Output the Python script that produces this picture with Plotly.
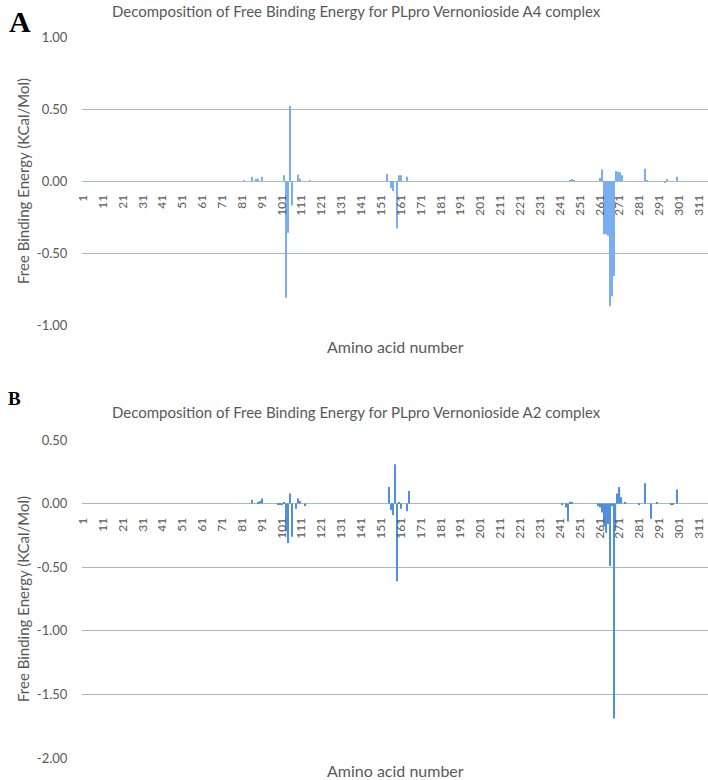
import plotly.graph_objects as go

W, H = 708, 780

# ---------------- data ----------------
residues_a = [82, 86, 88, 89, 91, 102, 103, 104, 105, 106, 109, 110, 115,
              154, 156, 157, 159, 160, 161, 164,
              246, 247, 248, 261, 262, 263, 264, 265, 266, 267, 268,
              269, 270, 271, 272, 284, 285, 294, 295, 300]
energy_a = [0.005, 0.03, 0.01, 0.015, 0.03, 0.04, -0.81, -0.36, 0.52, -0.17, 0.045, 0.015, 0.005,
            0.05, -0.05, -0.07, -0.33, 0.04, 0.04, 0.03,
            0.005, 0.01, 0.005, 0.02, 0.08, -0.37, -0.37, -0.38, -0.87, -0.80, -0.66,
            0.07, 0.065, 0.06, 0.04, 0.085, 0.005, -0.01, 0.01, 0.03]

residues_b = [86, 89, 90, 91, 99, 100, 101, 102, 103, 104, 105, 106, 108, 109, 110, 113,
              155, 156, 157, 158, 159, 160, 161, 164, 165,
              242, 244, 245, 246, 247, 260, 261, 262, 263, 264, 265, 266, 267, 268,
              269, 270, 271, 272, 274, 281, 284, 287, 290, 297, 298, 300]
energy_b = [0.03, 0.01, 0.02, 0.04, -0.01, -0.01, -0.01, 0.01, -0.22, -0.31, 0.08, -0.26, -0.04, 0.04, 0.02, -0.02,
            0.13, -0.05, -0.09, 0.31, -0.61, 0.01, -0.04, -0.06, 0.10,
            -0.01, -0.03, -0.14, 0.015, 0.01, -0.02, -0.03, -0.07, -0.18, -0.23, -0.16, -0.49, -0.02, -1.69,
            -0.19, 0.08, 0.13, 0.05, 0.005, -0.01, 0.16, -0.12, 0.005, -0.01, -0.01, 0.11]

x_ticks = list(range(1, 312, 10))
x_tick_text = [str(v) for v in x_ticks]

y_ticks_a = [-1.0, -0.5, 0.0, 0.5, 1.0]
y_text_a = ["-1.00", "-0.50", "0.00", "0.50", "1.00"]
y_ticks_b = [-2.0, -1.5, -1.0, -0.5, 0.0, 0.5]
y_text_b = ["-2.00", "-1.50", "-1.00", "-0.50", "0.00", "0.50"]

title_a = "Decomposition of Free Binding Energy for PLpro Vernonioside A4 complex"
title_b = "Decomposition of Free Binding Energy for PLpro Vernonioside A2 complex"
x_title = "Amino acid number"
y_title = "Free Binding Energy (KCal/Mol)"

# ---------------- layout helpers ----------------
def py(p):
    return 1 - p / H

def px(p):
    return p / W

FONT = "Lato"
GRID = "#A9B8C1"
TXT = "#595959"

fig = go.Figure()
fig.add_bar(x=residues_a, y=energy_a, xaxis="x", yaxis="y",
            marker=dict(color="#79AFF0", line=dict(width=0)), width=0.55)
fig.add_bar(x=residues_b, y=energy_b, xaxis="x2", yaxis="y2",
            marker=dict(color="#4F8FDD", line=dict(width=0)), width=0.6)

x_dom = [px(82), 1.0]
ya_dom = [py(325), py(37)]
yb_dom = [py(758), py(440)]
zero_a = py(181)
zero_b = py(504)

xcommon = dict(domain=x_dom, range=[0.5, 315.5], tickmode="array", tickvals=x_ticks,
               ticktext=x_tick_text, tickangle=-90, showgrid=False, zeroline=False,
               showline=False, ticks="outside", ticklen=8, tickcolor="rgba(0,0,0,0)",
               tickfont=dict(family=FONT, size=12, color=TXT), anchor="free")
ycommon = dict(showgrid=True, gridcolor=GRID, gridwidth=1.3, zeroline=False, showline=False,
               ticks="outside", ticklen=11, tickcolor="rgba(0,0,0,0)",
               tickfont=dict(family=FONT, size=13, color=TXT), tickmode="array")

fig.update_layout(
    width=W, height=H, margin=dict(l=0, r=0, t=0, b=0, autoexpand=False),
    paper_bgcolor="white", plot_bgcolor="white", showlegend=False, bargap=0.3,
    xaxis=dict(xcommon, position=zero_a),
    yaxis=dict(ycommon, domain=ya_dom, range=[-1.0, 1.0], tickvals=y_ticks_a, ticktext=y_text_a,
               anchor="x"),
    xaxis2=dict(xcommon, position=zero_b),
    yaxis2=dict(ycommon, domain=yb_dom, range=[-2.0, 0.5], tickvals=y_ticks_b, ticktext=y_text_b,
                anchor="x2"),
)

ann = []
def add_text(text, x, y, size, color=TXT, family=FONT, angle=0, bold=False):
    ann.append(dict(text=("<b>%s</b>" % text) if bold else text, x=px(x), y=py(y),
                    xref="paper", yref="paper", showarrow=False, textangle=angle,
                    xanchor="center", yanchor="middle",
                    font=dict(family=family, size=size, color=color)))

add_text(title_a, 356, 11, 15)
add_text(title_b, 356, 412, 15)
add_text("A", 20, 21, 30, color="black", family="Liberation Serif", bold=True)
add_text("B", 14, 399, 19, color="black", family="Liberation Serif", bold=True)
add_text(x_title, 395, 346, 16)
add_text(x_title, 395, 770, 16)
add_text(y_title, 23, 181, 15, angle=-90)
add_text(y_title, 23, 599, 15, angle=-90)
fig.update_layout(annotations=ann)

fig.write_html("out.html", config={"displayModeBar": False},
               post_script="document.body.style.margin='0px';document.body.style.overflow='hidden';")
